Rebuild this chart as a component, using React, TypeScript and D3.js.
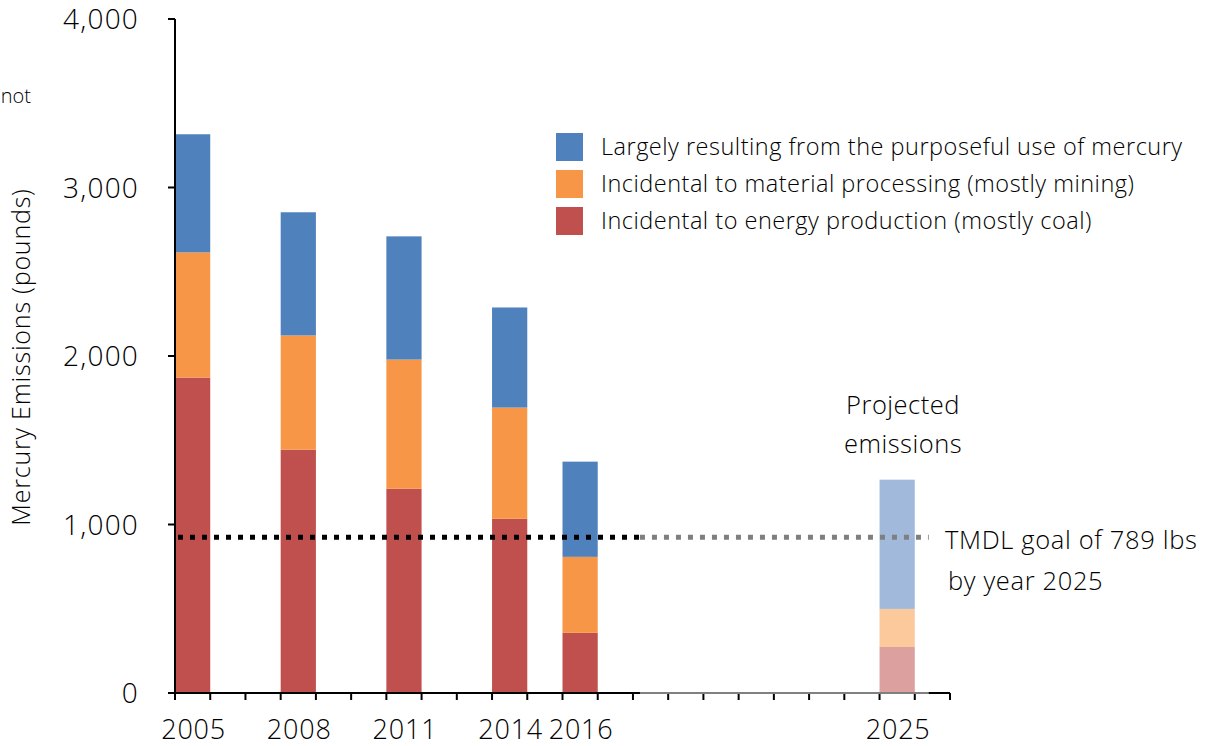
import React, { useEffect, useRef } from "react";
import * as d3 from "d3";

// chart values
const years = ["2005", "2006", "2007", "2008", "2009", "2010", "2011", "2012", "2013", "2014", "2015",
  "2016", "2017", "2018", "2019", "2020", "2021", "2022", "2023", "2024", "2025", "2026"];
const labelYears = ["2005", "2008", "2011", "2014", "2016", "2025"];
const barYears = ["2005", "2008", "2011", "2014", "2016", "2025"];
const energy = [1872, 1444, 1212, 1034, 357, 273];
const material = [743, 678, 767, 660, 451, 226];
const purposeful = [701, 731, 731, 594, 565, 767];
const projected = [false, false, false, false, false, true];
const yTicks = [0, 1000, 2000, 3000, 4000];
const seriesNames = [
  "Largely resulting from the purposeful use of mercury",
  "Incidental to material processing (mostly mining)",
  "Incidental to energy production (mostly coal)",
];
const goalValue = 925;

const colors = { energy: "#C0504D", material: "#F79646", purposeful: "#4F81BD" };
const lightColors = { energy: "#DCA09F", material: "#FBC99B", purposeful: "#A1BADB" };
const FONT = "'Open Sans', Lato, sans-serif";

export default function App() {
  const ref = useRef<SVGSVGElement>(null);

  useEffect(() => {
    const svg = d3.select(ref.current);
    svg.selectAll("*").remove();
    svg.style("font-family", FONT).style("font-weight", 350).style("fill", "#000");

    const x = d3.scaleBand().domain(years).range([175, 950]).padding(0);
    const y = d3.scaleLinear().domain([0, 4000]).range([693, 19]);

    const rows = barYears.map((yr, i) => ({
      year: yr,
      energy: energy[i],
      material: material[i],
      purposeful: purposeful[i],
      projected: projected[i],
    }));
    const keys = ["energy", "material", "purposeful"] as const;
    const stacked = d3.stack<any>().keys(keys as any)(rows);

    stacked.forEach((layer) => {
      const key = layer.key as keyof typeof colors;
      svg.append("g")
        .selectAll("rect")
        .data(layer)
        .enter()
        .append("rect")
        .attr("x", (d: any) => x(d.data.year)!)
        .attr("width", x.bandwidth())
        .attr("y", (d: any) => y(d[1]))
        .attr("height", (d: any) => y(d[0]) - y(d[1]))
        .attr("fill", (d: any) => (d.data.projected ? lightColors[key] : colors[key]));
    });

    // x axis
    const xAxis = svg.append("g");
    xAxis.append("line")
      .attr("x1", 175).attr("x2", 950).attr("y1", 693).attr("y2", 693)
      .attr("stroke", "#000").attr("stroke-width", 2);
    const bounds = years.map((yr) => x(yr)!).concat([x.range()[1]]);
    xAxis.selectAll("line.tick")
      .data(bounds)
      .enter()
      .append("line")
      .attr("class", "tick")
      .attr("x1", (d) => d).attr("x2", (d) => d)
      .attr("y1", 693).attr("y2", 700)
      .attr("stroke", "#000").attr("stroke-width", 2);
    const grayStart = x("2018")! + 7;
    const grayEnd = x("2026")! + 14;
    xAxis.append("line")
      .attr("x1", grayStart).attr("x2", grayEnd).attr("y1", 693).attr("y2", 693)
      .attr("stroke", "#808080").attr("stroke-width", 2);
    xAxis.selectAll("text")
      .data(labelYears)
      .enter()
      .append("text")
      .attr("x", (d) => x(d)! + x.bandwidth() / 2 + 1)
      .attr("y", 739)
      .attr("text-anchor", "middle")
      .style("font-size", "27px")
      .style("letter-spacing", "0.8px")
      .text((d) => d);

    // y axis
    const yAxis = svg.append("g");
    yAxis.append("line")
      .attr("x1", 175).attr("x2", 175).attr("y1", 19).attr("y2", 693)
      .attr("stroke", "#000").attr("stroke-width", 2);
    yAxis.selectAll("line.tick")
      .data(yTicks)
      .enter()
      .append("line")
      .attr("x1", 168).attr("x2", 175)
      .attr("y1", (d) => y(d)).attr("y2", (d) => y(d))
      .attr("stroke", "#000").attr("stroke-width", 2);
    yAxis.selectAll("text")
      .data(yTicks)
      .enter()
      .append("text")
      .attr("x", 139)
      .attr("y", (d) => y(d) + 10)
      .attr("text-anchor", "end")
      .style("font-size", "28px")
      .style("letter-spacing", "1.2px")
      .text((d) => d3.format(",")(d));

    svg.append("text")
      .attr("transform", "translate(30,357) rotate(-90)")
      .attr("text-anchor", "middle")
      .style("font-size", "25px")
      .style("letter-spacing", "0.8px")
      .text("Mercury Emissions (pounds)");

    svg.append("text")
      .attr("x", 31).attr("y", 103)
      .attr("text-anchor", "end")
      .style("font-size", "20px")
      .text("not");

    // TMDL goal line
    svg.append("line")
      .attr("x1", 178).attr("x2", grayStart)
      .attr("y1", y(goalValue)).attr("y2", y(goalValue))
      .attr("stroke", "#000").attr("stroke-width", 5)
      .attr("stroke-dasharray", "5,7");
    svg.append("line")
      .attr("x1", grayStart).attr("x2", grayEnd)
      .attr("y1", y(goalValue)).attr("y2", y(goalValue))
      .attr("stroke", "#7F7F7F").attr("stroke-width", 5)
      .attr("stroke-dasharray", "5,7");

    const note = svg.append("text")
      .style("font-size", "25.5px")
      .style("letter-spacing", "0.65px");
    note.append("tspan").attr("x", 945).attr("y", 549).text("TMDL goal of 789 lbs");
    note.append("tspan").attr("x", 948).attr("y", 590).text("by year 2025");

    const proj = svg.append("text")
      .attr("text-anchor", "middle")
      .style("font-size", "25.5px")
      .style("letter-spacing", "0.5px");
    proj.append("tspan").attr("x", 903).attr("y", 414).text("Projected");
    proj.append("tspan").attr("x", 903).attr("y", 453).text("emissions");

    // legend
    const legendColors = [colors.purposeful, colors.material, colors.energy];
    const legend = svg.append("g").attr("transform", "translate(556,133)");
    seriesNames.forEach((name, i) => {
      legend.append("rect")
        .attr("x", 0).attr("y", i * 37)
        .attr("width", 27).attr("height", 28)
        .attr("fill", legendColors[i]);
      legend.append("text")
        .attr("x", 45).attr("y", i * 37 + 22)
        .style("font-size", "23.5px")
        .style("letter-spacing", "0.5px")
        .text(name);
    });
  }, []);

  return (
    <svg
      ref={ref}
      width={1219}
      height={746}
      style={{ position: "absolute", left: 0, top: 0, background: "#fff" }}
    />
  );
}
